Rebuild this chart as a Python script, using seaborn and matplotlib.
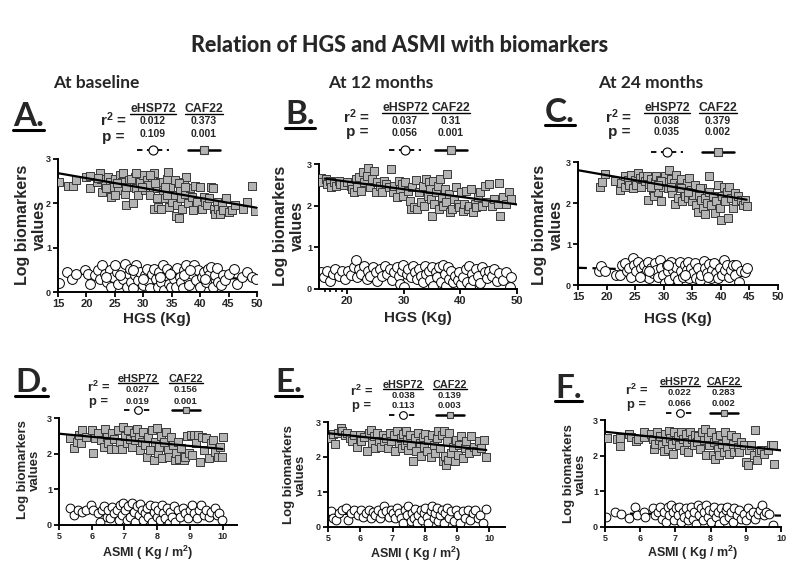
import matplotlib
matplotlib.use("Agg")
import matplotlib.pyplot as plt
from matplotlib.lines import Line2D
from matplotlib.ticker import FixedLocator
import seaborn as sns

# ---------------- text ----------------
TITLE = "Relation of HGS and ASMI with biomarkers"
COLUMN_TITLES = ["At baseline", "At 12 months", "At 24 months"]
PANEL_LETTERS = ["A.", "B.", "C.", "D.", "E.", "F."]
SERIES_NAMES = ["eHSP72", "CAF22"]
R2_EHSP72 = ["0.012", "0.037", "0.038", "0.027", "0.038", "0.022"]
R2_CAF22 = ["0.373", "0.31", "0.379", "0.156", "0.139", "0.283"]
P_EHSP72 = ["0.109", "0.056", "0.035", "0.019", "0.113", "0.066"]
P_CAF22 = ["0.001", "0.001", "0.002", "0.001", "0.003", "0.002"]
X_LABELS = ["HGS (Kg)", "HGS (Kg)", "HGS (Kg)",
            "ASMI ( Kg / m$\\mathbf{^2}$)", "ASMI ( Kg / m$\\mathbf{^2}$)", "ASMI ( Kg / m$\\mathbf{^2}$)"]
Y_LABEL = "Log biomarkers\nvalues"
HGS_TICKS_A = [15, 20, 25, 30, 35, 40, 45, 50]
HGS_TICKS_B = [20, 30, 40, 50]
ASMI_TICKS = [5, 6, 7, 8, 9, 10]
Y_TICKS = [0, 1, 2, 3]

# ---------------- regression lines: (x_start, x_end, y_start, y_end) ----------------
FIT_CAF22 = [(15, 50, 2.68, 1.90), (16, 50, 2.65, 2.03), (15, 44.5, 2.80, 2.08),
             (5, 10, 2.56, 2.13), (5, 9.9, 2.68, 2.20), (5, 10, 2.67, 2.15)]
FIT_EHSP72 = [(17, 49.5, 0.37, 0.30), (15, 50, 0.42, 0.30), (15, 44, 0.42, 0.30),
              (5.3, 10, 0.40, 0.28), (5.0, 9.9, 0.38, 0.33), (5.3, 10, 0.38, 0.32)]

# ---------------- data (x, y) ----------------
A_CAF22 = [(15.2,2.47),(16.8,2.39),(17.6,2.39),(18.1,2.52),(19.9,2.60),(20.6,2.62),(20.6,2.34),(21.8,2.49),(22.4,2.68),(22.6,2.56),
 (22.8,2.26),(23.2,2.41),(23.8,2.60),(24.1,2.49),(24.4,2.15),(24.7,2.37),(25.0,2.56),(25.6,2.30),(25.9,2.64),(26.2,2.47),
 (26.5,2.68),(26.8,2.22),(27.0,1.97),(27.4,2.52),(27.6,2.37),(28.2,2.00),(28.5,2.60),(28.8,2.34),(29.1,2.19),(29.4,2.49),
 (30.0,2.64),(30.3,2.30),(30.6,2.52),(30.9,2.41),(31.2,2.19),(31.5,2.60),(31.8,1.88),(31.9,2.68),(32.4,2.34),(32.6,1.92),
 (32.9,2.49),(33.2,1.88),(33.5,2.26),(33.8,2.11),(34.1,2.56),(34.4,2.70),(34.6,1.92),(34.7,2.37),(35.0,2.03),(35.3,2.19),
 (35.6,2.52),(35.8,1.72),(36.0,1.96),(36.2,1.66),(36.4,2.30),(36.6,2.11),(36.8,1.88),(37.1,2.49),(37.4,2.22),(37.6,2.60),
 (37.9,2.00),(38.2,2.34),(38.5,2.15),(38.8,1.85),(39.1,2.40),(39.4,2.03),(39.9,2.37),(40.3,1.88),(40.6,2.15),(40.9,2.03),
 (41.2,1.96),(41.6,2.11),(41.9,2.37),(42.2,2.34),(42.4,1.88),(42.6,1.77),(42.9,2.03),(43.2,1.88),(43.5,1.75),(43.8,1.96),
 (44.1,1.85),(44.6,2.13),(45.0,1.81),(45.6,1.85),(46.2,1.96),(47.5,1.88),(48.2,2.03),(49.1,2.40),(49.7,1.82),
 (22.0,2.58),(23.5,2.34),(25.3,2.45),(27.9,2.56),(29.7,2.37),(32.1,2.45),(33.8,2.37),(36.2,2.45),(37.4,2.37),(34.1,2.19),
 (32.4,2.11),(31.2,2.64),(28.8,2.68),(27.0,2.37),(25.0,2.19)]
A_EHSP72 = [(15.2,0.20),(16.5,0.45),(17.5,0.30),(18.2,0.41),(19.7,0.49),(20.3,0.41),(20.6,0.17),(21.5,0.38),(22.1,0.49),(22.4,0.30),
 (22.8,0.60),(23.2,0.41),(23.6,0.23),(24.1,0.49),(24.4,0.11),(24.7,0.34),(25.3,0.45),(25.6,0.19),(26.2,0.54),(26.5,0.30),
 (26.8,0.64),(27.1,0.11),(27.4,0.41),(27.6,0.53),(27.9,0.23),(28.2,0.09),(28.5,0.38),(28.8,0.60),(29.1,0.26),(29.4,0.45),
 (29.9,0.15),(30.3,0.38),(30.6,0.53),(30.9,0.24),(31.2,0.08),(31.5,0.41),(31.9,0.53),(32.2,0.30),(32.5,0.11),(32.8,0.45),
 (33.2,0.23),(33.5,0.62),(33.6,0.04),(34.0,0.38),(34.2,0.53),(34.6,0.19),(34.8,0.11),(35.2,0.45),(35.4,0.30),(35.8,0.11),
 (36.0,0.54),(36.4,0.34),(36.6,0.23),(37.0,0.08),(37.2,0.49),(37.5,0.60),(37.8,0.30),(38.1,0.15),(38.5,0.41),(38.9,0.62),
 (39.3,0.26),(39.7,0.49),(40.0,0.11),(40.3,0.34),(40.7,0.45),(41.1,0.23),(41.3,0.53),(41.6,0.38),(41.9,0.57),(42.2,0.11),
 (42.6,0.38),(42.9,0.54),(43.2,0.23),(43.6,0.15),(44.0,0.38),(44.4,0.26),(45.0,0.41),(45.9,0.53),(46.5,0.19),(47.4,0.34),
 (48.2,0.45),(49.1,0.34),(49.9,0.30),(25.0,0.60),(25.9,0.38),(28.2,0.49),(30.0,0.30),(32.9,0.34),(34.7,0.41),(37.1,0.38),
 (38.3,0.49),(40.9,0.30),(23.5,0.34)]

B_CAF22 = [(15.3,2.66),(15.6,2.56),(16.2,2.64),(16.4,2.52),(16.9,2.60),(17.2,2.44),(17.6,2.56),(18.0,2.48),(18.5,2.60),(18.8,2.52),
 (19.4,2.50),(20.0,2.56),(20.6,2.48),(20.9,2.40),(21.2,2.32),(21.5,2.64),(21.8,2.44),(22.1,2.68),(22.4,2.36),(22.7,2.82),
 (23.0,2.56),(23.4,2.72),(23.7,2.90),(24.0,2.44),(24.3,2.64),(24.7,2.84),(25.0,2.32),(25.3,2.56),(25.7,2.48),(26.1,2.32),
 (26.5,2.60),(26.9,2.52),(27.3,2.44),(27.7,2.88),(28.0,2.32),(28.3,2.48),(28.7,2.20),(29.1,2.60),(29.3,2.40),(29.6,2.52),
 (29.9,2.24),(30.2,2.56),(30.7,2.36),(31.0,2.12),(31.2,1.92),(31.5,2.44),(31.8,1.96),(32.1,2.62),(32.4,1.92),(32.7,2.32),
 (33.0,2.08),(33.3,2.48),(33.6,2.00),(33.9,2.64),(34.2,2.24),(34.4,2.56),(34.6,2.40),(34.8,2.16),(35.0,1.76),(35.2,2.60),
 (35.4,2.04),(35.7,2.32),(36.0,2.48),(36.2,1.92),(36.4,2.64),(36.7,2.20),(36.9,2.00),(37.2,2.40),(37.5,2.08),(37.7,2.76),
 (38.0,2.28),(38.2,1.84),(38.5,1.92),(38.9,2.16),(39.2,2.44),(39.5,2.04),(39.8,1.96),(40.1,2.32),(40.4,1.88),(40.7,2.04),
 (41.0,2.36),(41.3,1.92),(41.6,2.00),(41.9,2.40),(42.2,1.84),(42.5,2.04),(42.8,1.96),(43.1,2.20),(43.5,2.34),(43.8,2.00),
 (44.3,2.48),(44.6,2.08),(45.1,2.52),(45.6,2.00),(46.0,2.16),(46.6,2.04),(46.8,2.54),(47.0,1.76),(47.5,2.20),(48.1,2.04),
 (48.6,2.32),(49.0,2.16)]
B_EHSP72 = [(15.3,0.40),(15.9,0.28),(16.4,0.44),(17.0,0.20),(17.5,0.36),(17.9,0.48),(18.5,0.32),(19.0,0.44),(19.6,0.24),(20.2,0.44),
 (20.6,0.34),(21.2,0.52),(21.6,0.70),(21.8,0.28),(22.1,0.48),(22.5,0.36),(23.0,0.56),(23.4,0.24),(23.7,0.44),(24.1,0.32),
 (24.6,0.52),(25.0,0.40),(25.3,0.20),(25.7,0.48),(26.2,0.32),(26.7,0.56),(27.1,0.36),(27.5,0.48),(27.9,0.22),(28.3,0.40),
 (28.7,0.52),(29.1,0.32),(29.3,0.12),(29.6,0.44),(29.9,0.58),(30.1,0.06),(30.5,0.36),(30.8,0.48),(31.2,0.28),(31.7,0.56),
 (32.0,0.40),(32.4,0.24),(32.7,0.48),(33.1,0.32),(33.4,0.16),(33.8,0.56),(34.0,0.36),(34.4,0.44),(34.6,0.22),(35.0,0.54),
 (35.2,0.08),(35.6,0.40),(35.8,0.28),(36.2,0.52),(36.6,0.16),(36.9,0.58),(37.2,0.36),(37.5,0.08),(37.8,0.52),(38.0,0.24),
 (38.3,0.44),(38.6,0.16),(39.1,0.32),(39.5,0.22),(39.8,0.40),(40.1,0.12),(40.5,0.28),(40.9,0.48),(41.1,0.16),(41.5,0.56),
 (41.7,0.06),(42.1,0.36),(42.3,0.22),(42.7,0.48),(43.1,0.32),(43.5,0.14),(43.8,0.52),(44.3,0.40),(44.7,0.26),(45.1,0.44),
 (45.6,0.32),(46.0,0.48),(46.5,0.20),(46.9,0.38),(47.5,0.22),(48.1,0.40),(48.7,0.06),(49.0,0.30)]

C_CAF22 = [(18.8,2.40),(19.2,2.51),(19.7,2.71),(21.4,2.54),(22.3,2.32),(22.6,2.49),(23.2,2.65),(23.3,2.38),(23.8,2.57),(24.0,2.44),
 (24.3,2.69),(24.6,2.36),(24.9,2.57),(25.2,2.44),(25.5,2.73),(25.8,2.61),(26.1,2.40),(26.4,2.67),(26.7,2.53),(27.0,2.67),
 (27.3,2.08),(27.5,2.46),(27.8,2.59),(28.1,2.32),(28.3,2.16),(28.5,2.51),(28.7,2.67),(29.0,2.28),(29.3,2.57),(29.6,2.05),
 (29.9,2.40),(30.2,2.65),(30.5,2.51),(30.8,2.36),(31.0,2.81),(31.2,2.59),(31.5,2.24),(31.8,2.49),(32.0,1.97),(32.2,2.69),
 (32.5,2.12),(32.8,2.44),(33.0,2.59),(33.2,2.04),(33.6,2.28),(33.8,2.16),(34.0,2.49),(34.3,2.12),(34.5,2.62),(34.7,2.32),
 (34.9,2.04),(35.1,2.20),(35.4,2.44),(35.7,1.96),(36.0,1.79),(36.2,2.20),(36.5,2.08),(36.7,2.36),(36.9,1.87),(37.2,2.12),
 (37.3,1.73),(37.6,2.00),(37.9,2.28),(38.0,2.67),(38.3,1.96),(38.6,2.16),(38.9,1.75),(39.2,2.04),(39.5,2.44),(39.8,1.87),
 (40.0,1.59),(40.2,2.16),(40.6,2.40),(40.8,2.04),(41.0,2.28),(41.3,1.63),(41.5,2.40),(41.8,2.12),(42.1,1.87),(42.4,2.24),
 (42.7,2.04),(43.0,2.16),(43.5,2.08),(43.9,1.96),(44.2,2.08),(44.5,1.92),(27.8,2.40),(29.6,2.53),(31.3,2.40),(33.1,2.36),
 (34.3,2.28),(36.3,2.36),(29.0,2.44)]
C_EHSP72 = [(18.7,0.34),(19.1,0.47),(19.8,0.34),(21.7,0.24),(22.3,0.24),(22.7,0.49),(23.2,0.53),(23.5,0.33),(23.9,0.41),(24.2,0.20),
 (24.6,0.65),(24.8,0.49),(25.2,0.33),(25.5,0.57),(26.0,0.41),(26.2,0.23),(26.6,0.49),(27.0,0.37),(27.3,0.57),(27.5,0.16),
 (27.8,0.42),(28.1,0.29),(28.4,0.53),(28.7,0.37),(29.0,0.20),(29.3,0.61),(29.6,0.41),(29.9,0.24),(30.2,0.04),(30.5,0.49),
 (30.8,0.33),(31.0,0.12),(31.3,0.57),(31.6,0.37),(31.9,0.23),(32.2,0.45),(32.5,0.12),(32.8,0.57),(33.1,0.33),(33.4,0.20),
 (33.7,0.49),(34.0,0.37),(34.3,0.57),(34.5,0.16),(34.8,0.41),(35.1,0.29),(35.4,0.53),(35.7,0.18),(36.0,0.41),(36.3,0.12),
 (36.6,0.24),(37.1,0.59),(37.3,0.41),(37.6,0.29),(37.9,0.51),(38.2,0.16),(38.5,0.37),(38.8,0.53),(39.2,0.29),(39.5,0.16),
 (39.8,0.41),(40.2,0.24),(40.6,0.61),(40.8,0.37),(41.1,0.49),(41.4,0.20),(41.7,0.37),(42.1,0.49),(42.4,0.24),(42.7,0.49),
 (43.1,0.08),(43.6,0.33),(44.2,0.31),(44.6,0.41),(25.8,0.20),(27.5,0.33),(30.8,0.49),(33.7,0.24),(37.8,0.20)]

D_CAF22 = [(5.34,2.44),(5.47,2.16),(5.54,2.34),(5.61,2.53),(5.67,2.30),(5.71,2.65),(5.82,2.48),(6.00,2.67),(6.05,2.03),(6.10,2.44),
 (6.20,2.58),(6.29,2.39),(6.36,2.18),(6.41,2.69),(6.46,2.48),(6.51,2.30),(6.59,2.13),(6.63,2.58),(6.69,2.41),(6.73,2.13),
 (6.80,2.65),(6.87,2.34),(6.92,2.13),(6.97,2.75),(7.02,2.50),(7.07,2.30),(7.12,2.67),(7.17,2.41),(7.22,2.20),(7.28,2.58),
 (7.33,2.37),(7.38,2.69),(7.43,2.48),(7.48,2.09),(7.53,2.34),(7.58,2.62),(7.63,2.25),(7.68,1.92),(7.73,2.46),(7.79,2.11),
 (7.84,2.67),(7.89,1.83),(7.94,2.34),(7.99,2.72),(8.02,2.01),(8.06,2.20),(8.12,2.50),(8.16,1.87),(8.22,2.34),(8.27,2.62),
 (8.33,2.11),(8.37,1.92),(8.43,2.48),(8.47,2.25),(8.53,1.83),(8.57,2.01),(8.63,2.34),(8.67,1.85),(8.73,2.16),(8.81,1.83),
 (8.86,1.92),(8.91,2.50),(8.96,2.01),(9.04,2.53),(9.08,1.97),(9.14,2.53),(9.18,2.30),(9.24,2.53),(9.32,1.78),(9.37,2.48),
 (9.42,2.11),(9.49,2.44),(9.57,1.87),(9.65,2.30),(9.72,2.39),(9.78,2.06),(9.86,1.92),(9.93,2.20),(10.00,2.46),(9.98,1.92)]
D_EHSP72 = [(5.34,0.47),(5.47,0.28),(5.59,0.42),(5.71,0.37),(5.82,0.42),(5.98,0.56),(6.05,0.42),(6.20,0.33),(6.26,0.09),(6.31,0.42),
 (6.39,0.52),(6.46,0.23),(6.51,0.42),(6.56,0.19),(6.63,0.50),(6.69,0.33),(6.77,0.42),(6.82,0.14),(6.87,0.56),(6.92,0.28),
 (6.97,0.61),(7.02,0.42),(7.07,0.14),(7.12,0.52),(7.17,0.23),(7.22,0.61),(7.28,0.37),(7.33,0.09),(7.38,0.52),(7.43,0.28),
 (7.48,0.59),(7.53,0.42),(7.58,0.14),(7.63,0.33),(7.68,0.47),(7.73,0.23),(7.79,0.56),(7.84,0.09),(7.89,0.37),(7.94,0.52),
 (7.99,0.23),(8.04,0.42),(8.09,0.14),(8.14,0.56),(8.19,0.33),(8.24,0.19),(8.30,0.47),(8.35,0.07),(8.40,0.37),(8.45,0.23),
 (8.50,0.52),(8.55,0.09),(8.63,0.42),(8.70,0.23),(8.78,0.47),(8.86,0.33),(8.94,0.19),(9.01,0.42),(9.08,0.56),(9.14,0.33),
 (9.21,0.19),(9.29,0.42),(9.35,0.56),(9.42,0.28),(9.49,0.42),(9.57,0.23),(9.65,0.37),(9.76,0.47),(9.83,0.28),(9.90,0.33),
 (9.98,0.14)]

E_CAF22 = [(5.08,2.54),(5.15,2.66),(5.23,2.37),(5.31,2.69),(5.39,2.83),(5.43,2.75),(5.52,2.62),(5.60,2.69),(5.67,2.54),(5.74,2.45),
 (5.80,2.62),(5.91,2.30),(5.98,2.64),(6.03,2.47),(6.13,2.56),(6.22,2.18),(6.26,2.69),(6.32,2.78),(6.36,2.40),(6.42,2.59),
 (6.46,2.26),(6.53,2.69),(6.57,2.47),(6.63,2.30),(6.70,2.64),(6.73,2.45),(6.80,2.54),(6.86,2.26),(6.91,2.69),(6.96,2.45),
 (7.04,2.62),(7.08,2.16),(7.14,2.73),(7.19,2.40),(7.25,2.54),(7.29,2.26),(7.33,2.67),(7.37,2.35),(7.42,2.75),(7.45,2.50),
 (7.49,2.21),(7.54,2.62),(7.58,2.35),(7.63,1.88),(7.68,2.54),(7.73,2.16),(7.78,2.69),(7.84,2.40),(7.89,2.02),(7.94,2.56),
 (7.97,2.30),(8.01,2.67),(8.07,2.16),(8.11,2.50),(8.18,1.99),(8.22,2.64),(8.28,2.35),(8.32,2.11),(8.38,2.54),(8.42,2.73),
 (8.48,2.26),(8.53,2.62),(8.56,1.88),(8.59,2.75),(8.63,2.02),(8.66,1.78),(8.69,2.45),(8.73,1.92),(8.76,2.69),(8.81,2.11),
 (8.87,2.30),(8.92,1.88),(8.97,2.50),(9.02,2.07),(9.07,2.35),(9.12,2.59),(9.18,1.97),(9.23,2.26),(9.28,2.45),(9.35,2.11),
 (9.43,2.59),(9.52,2.30),(9.59,2.16),(9.66,2.45),(9.74,2.26),(9.82,2.50),(9.90,1.99)]
E_EHSP72 = [(5.08,0.47),(5.15,0.26),(5.26,0.21),(5.33,0.40),(5.43,0.50),(5.57,0.54),(5.62,0.21),(5.72,0.40),(5.82,0.50),(5.93,0.35),
 (6.01,0.50),(6.08,0.30),(6.19,0.40),(6.26,0.50),(6.32,0.26),(6.39,0.43),(6.46,0.35),(6.55,0.50),(6.60,0.26),(6.67,0.40),
 (6.73,0.59),(6.80,0.45),(6.88,0.30),(6.94,0.50),(7.01,0.40),(7.08,0.26),(7.14,0.54),(7.21,0.40),(7.27,0.26),(7.32,0.11),
 (7.39,0.50),(7.45,0.35),(7.49,0.59),(7.56,0.16),(7.60,0.40),(7.66,0.26),(7.70,0.52),(7.76,0.11),(7.80,0.35),(7.87,0.50),
 (7.91,0.21),(7.97,0.40),(8.01,0.54),(8.07,0.30),(8.11,0.11),(8.18,0.45),(8.22,0.59),(8.28,0.26),(8.32,0.40),(8.38,0.54),
 (8.42,0.16),(8.48,0.35),(8.53,0.50),(8.59,0.11),(8.63,0.40),(8.69,0.54),(8.76,0.26),(8.81,0.45),(8.90,0.16),(8.97,0.50),
 (9.02,0.35),(9.10,0.11),(9.18,0.45),(9.25,0.26),(9.33,0.50),(9.41,0.21),(9.48,0.40),(9.56,0.50),(9.64,0.26),(9.72,0.35),
 (9.79,0.11),(9.90,0.52)]

F_CAF22 = [(5.06,2.50),(5.34,2.48),(5.44,2.50),(5.44,2.28),(5.69,2.62),(5.74,2.53),(5.88,2.41),(5.93,2.48),(6.10,2.53),(6.12,2.67),
 (6.31,2.62),(6.35,2.48),(6.38,2.20),(6.42,2.34),(6.48,2.67),(6.52,2.44),(6.57,2.56),(6.61,2.30),(6.67,2.13),(6.70,2.62),
 (6.73,2.41),(6.78,2.20),(6.83,2.69),(6.86,2.50),(6.89,2.34),(6.92,2.06),(6.97,2.65),(7.02,2.44),(7.06,2.56),(7.11,2.30),
 (7.16,2.67),(7.21,2.48),(7.25,2.15),(7.30,2.62),(7.33,2.39),(7.37,2.11),(7.42,2.67),(7.46,2.48),(7.52,2.30),(7.56,2.59),
 (7.61,2.39),(7.65,2.56),(7.71,2.20),(7.75,2.65),(7.80,2.44),(7.84,2.75),(7.87,2.01),(7.92,2.53),(7.96,2.30),(8.01,2.65),
 (8.06,2.03),(8.09,2.39),(8.13,1.92),(8.15,2.53),(8.20,2.20),(8.25,2.01),(8.28,2.59),(8.31,2.34),(8.37,2.11),(8.41,2.65),
 (8.44,2.44),(8.48,2.25),(8.53,2.06),(8.58,2.58),(8.63,2.34),(8.67,2.11),(8.72,2.53),(8.77,2.25),(8.82,2.11),(8.86,2.39),
 (8.94,2.30),(9.00,1.83),(9.05,1.73),(9.10,2.16),(9.15,2.30),(9.22,2.01),(9.26,2.72),(9.32,1.87),(9.38,2.11),(9.43,2.16),
 (9.51,2.06),(9.62,2.16),(9.72,2.30),(9.76,2.30),(9.79,1.78)]
F_EHSP72 = [(5.03,0.28),(5.28,0.42),(5.45,0.37),(5.69,0.25),(5.85,0.56),(5.91,0.33),(6.12,0.42),(6.14,0.28),(6.35,0.52),(6.42,0.33),
 (6.50,0.42),(6.57,0.56),(6.61,0.23),(6.67,0.42),(6.73,0.14),(6.78,0.56),(6.83,0.33),(6.88,0.61),(6.92,0.42),(6.97,0.19),
 (7.02,0.52),(7.06,0.33),(7.11,0.56),(7.16,0.14),(7.21,0.42),(7.25,0.28),(7.30,0.52),(7.35,0.19),(7.40,0.37),(7.44,0.56),
 (7.49,0.23),(7.54,0.42),(7.59,0.09),(7.63,0.61),(7.68,0.33),(7.73,0.52),(7.77,0.19),(7.82,0.42),(7.87,0.61),(7.92,0.28),
 (7.96,0.47),(8.01,0.14),(8.06,0.42),(8.11,0.56),(8.15,0.28),(8.20,0.42),(8.25,0.09),(8.30,0.52),(8.34,0.33),(8.39,0.19),
 (8.44,0.47),(8.48,0.56),(8.53,0.28),(8.58,0.42),(8.63,0.14),(8.67,0.52),(8.75,0.33),(8.82,0.47),(8.86,0.23),(8.94,0.37),
 (9.00,0.19),(9.05,0.52),(9.13,0.33),(9.20,0.42),(9.26,0.23),(9.34,0.37),(9.41,0.47),(9.45,0.61),(9.51,0.33),(9.57,0.42),
 (9.67,0.37),(9.76,0.05)]

CAF22_DATA = [A_CAF22, B_CAF22, C_CAF22, D_CAF22, E_CAF22, F_CAF22]
EHSP72_DATA = [A_EHSP72, B_EHSP72, C_EHSP72, D_EHSP72, E_EHSP72, F_EHSP72]

# ---------------- layout (pixels, y from top) ----------------
W, H = 791, 568
AX_PX = [(58, 159, 257, 292), (319, 164, 517, 289), (578, 162, 778, 285),
         (59, 418, 237, 525), (328, 422, 505, 527), (605, 420, 781, 527)]
XLIM = [(15, 50), (15, 50), (15, 50), (5, 10.44), (5, 10.48), (5, 10)]
STAT_PX = [
    dict(lab=(13, 117), r2=(127, 120), p=(124, 137), c=(153, 204), yh=109, yr=121.5, yp=134, yl=150),
    dict(lab=(285, 115), r2=(370, 117), p=(368, 132), c=(405, 451), yh=108, yr=121.5, yp=132.5, yl=150),
    dict(lab=(545, 112), r2=(632, 117), p=(630, 132), c=(667, 718), yh=108, yr=121, yp=132, yl=151.5),
    dict(lab=(15, 383), r2=(110, 387), p=(108, 402), c=(138, 186), yh=379, yr=390, yp=401, yl=410),
    dict(lab=(275, 383), r2=(373, 391), p=(371, 406), c=(403, 450), yh=385, yr=395, yp=406, yl=415),
    dict(lab=(555, 388), r2=(648, 390), p=(646, 405), c=(680, 724), yh=382, yr=392.5, yp=403, yl=413),
]
YLAB_PX = [(31, 225), (289, 226), (548, 225), (29, 470), (295, 475), (575, 474)]
XLAB_PX = [(157, 319), (418, 318), (678, 319), (148, 553), (416, 554), (693, 553)]
COL_TITLE_PX = [(96, 83), (381, 83), (651, 83)]

SQ_FACE = "#b3b3b3"
SQ_EDGE = "#3a3a3a"

sns.set_theme(style="ticks")
plt.rcParams["font.family"] = ["Liberation Sans", "DejaVu Sans"]
plt.rcParams["mathtext.fontset"] = "custom"
plt.rcParams["mathtext.bf"] = "Liberation Sans:bold"
plt.rcParams["mathtext.rm"] = "Liberation Sans"

fig = plt.figure(figsize=(W / 100, H / 100), dpi=100)
fig.patch.set_facecolor("white")


def fx(px):
    return px / W


def fy(py):
    return 1 - py / H


CAL = ["Lato", "DejaVu Sans"]

fig.text(fx(400), fy(46), TITLE, ha="center", va="center", fontsize=15.5,
         fontweight="black", family=CAL)
for (cx, cy), t in zip(COL_TITLE_PX, COLUMN_TITLES):
    fig.text(fx(cx), fy(cy), t, ha="center", va="center", fontsize=12.5,
             fontweight="bold", family=CAL)

underline_texts = []

for i in range(6):
    l, t, r, b = AX_PX[i]
    ax = fig.add_axes([fx(l), fy(b), (r - l) / W, (b - t) / H])
    big = i < 3
    caf = CAF22_DATA[i]
    hsp = EHSP72_DATA[i]

    x0, x1, y0, y1 = FIT_EHSP72[i]
    sns.lineplot(x=[x0, x1], y=[y0, y1], ax=ax, color="black", linewidth=1.6,
                 linestyle=(0, (4, 2.5)), zorder=1, estimator=None)
    sns.scatterplot(x=[p[0] for p in hsp], y=[p[1] for p in hsp], ax=ax,
                    marker="o", s=50 if big else 40, color="white",
                    edgecolor="black", linewidth=0.7, zorder=2, legend=False)
    sns.scatterplot(x=[p[0] for p in caf], y=[p[1] for p in caf], ax=ax,
                    marker="s", s=40 if big else 32, color=SQ_FACE,
                    edgecolor=SQ_EDGE, linewidth=0.7, zorder=3, legend=False)
    x0, x1, y0, y1 = FIT_CAF22[i]
    sns.lineplot(x=[x0, x1], y=[y0, y1], ax=ax, color="black", linewidth=1.6,
                 zorder=4, estimator=None)

    ax.set_xlim(*XLIM[i])
    ax.set_ylim(0, 3)
    ax.set_xlabel("")
    ax.set_ylabel("")
    sns.despine(ax=ax)
    for sp in ("left", "bottom"):
        ax.spines[sp].set_linewidth(1.4)
        ax.spines[sp].set_color("black")
    ax.set_yticks(Y_TICKS)
    if i == 1:
        ax.xaxis.set_major_locator(FixedLocator(HGS_TICKS_B))
        ax.xaxis.set_minor_locator(FixedLocator([16, 17, 18, 19]))
    elif i < 3:
        ax.xaxis.set_major_locator(FixedLocator(HGS_TICKS_A))
    else:
        ax.xaxis.set_major_locator(FixedLocator(ASMI_TICKS))
    ax.tick_params(axis="both", which="major", length=3.5, width=1.3,
                   direction="out", color="black", pad=1.5)
    ax.tick_params(axis="x", which="minor", length=2.5, width=1.2,
                   direction="out", color="black")
    ax.tick_params(axis="x", labelsize=8 if big else 6.5)
    ax.tick_params(axis="y", labelsize=6.5)
    for lab in ax.get_xticklabels() + ax.get_yticklabels():
        lab.set_fontweight("bold")
    ax.set_facecolor("none")

    yx, yy = YLAB_PX[i]
    fig.text(fx(yx), fy(yy), Y_LABEL, rotation=90, ha="center", va="center",
             multialignment="center", fontsize=11.5 if big else 9.5,
             fontweight="bold", linespacing=1.1)
    xx, xy = XLAB_PX[i]
    fig.text(fx(xx), fy(xy), X_LABELS[i], ha="center", va="center",
             fontsize=11 if big else 9, fontweight="bold")

    st = STAT_PX[i]
    lt = fig.text(fx(st["lab"][0]), fy(st["lab"][1]), PANEL_LETTERS[i], ha="left",
                  va="center", fontsize=24, fontweight="bold", family=CAL)
    underline_texts.append((lt, 2.2))
    fs_big = 11 if big else 9.3
    fs_head = 8.8 if big else 7.8
    fs_val = 7.5 if big else 6.8
    fig.text(fx(st["r2"][0]), fy(st["r2"][1]), "r$\\mathbf{^2}$ =", ha="right",
             va="center", fontsize=fs_big, fontweight="bold")
    fig.text(fx(st["p"][0]), fy(st["p"][1]), "p =", ha="right", va="center",
             fontsize=fs_big, fontweight="bold")
    c1, c2 = st["c"]
    for cx, name, r2v, pv in ((c1, SERIES_NAMES[0], R2_EHSP72[i], P_EHSP72[i]),
                              (c2, SERIES_NAMES[1], R2_CAF22[i], P_CAF22[i])):
        ht = fig.text(fx(cx), fy(st["yh"]), name, ha="center", va="center",
                      fontsize=fs_head, fontweight="bold")
        underline_texts.append((ht, 1.0))
        fig.text(fx(cx), fy(st["yr"]), r2v, ha="center", va="center",
                 fontsize=fs_val, fontweight="bold")
        fig.text(fx(cx), fy(st["yp"]), pv, ha="center", va="center",
                 fontsize=fs_val, fontweight="bold")
    yl = st["yl"]
    half = 16 if big else 14
    fig.add_artist(Line2D([fx(c1 - half), fx(c1 + half)], [fy(yl), fy(yl)],
                          transform=fig.transFigure, color="black", linewidth=1.3,
                          linestyle=(0, (3, 2.5))))
    fig.add_artist(Line2D([fx(c1)], [fy(yl)], transform=fig.transFigure,
                          marker="o", markersize=6.5 if big else 5.5,
                          markerfacecolor="white", markeredgecolor="black",
                          markeredgewidth=0.8, linestyle="none"))
    fig.add_artist(Line2D([fx(c2 - half), fx(c2 + half)], [fy(yl), fy(yl)],
                          transform=fig.transFigure, color="black", linewidth=1.8))
    fig.add_artist(Line2D([fx(c2)], [fy(yl)], transform=fig.transFigure,
                          marker="s", markersize=5.5 if big else 5,
                          markerfacecolor=SQ_FACE, markeredgecolor=SQ_EDGE,
                          markeredgewidth=0.8, linestyle="none"))

fig.canvas.draw()
renderer = fig.canvas.get_renderer()
for txt, lw in underline_texts:
    bb = txt.get_window_extent(renderer)
    yline = bb.y0 + (1.5 if lw < 2 else 2.0)
    fig.add_artist(Line2D([bb.x0 / W, bb.x1 / W], [yline / H, yline / H],
                          transform=fig.transFigure, color="black", linewidth=lw))

fig.savefig("out.png", dpi=100)
